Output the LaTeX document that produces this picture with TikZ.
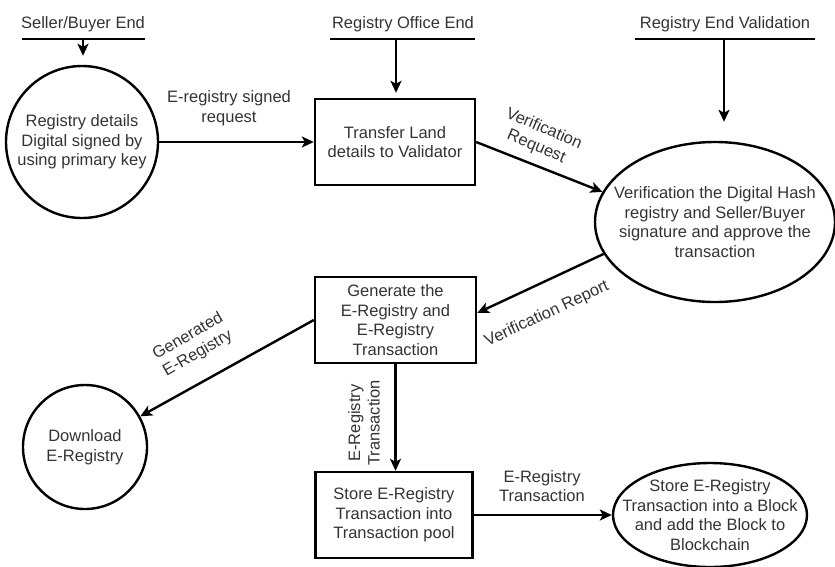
\documentclass[tikz,border=0pt]{standalone}
\usepackage{fontspec}
\setmainfont{Liberation Sans}
\usetikzlibrary{arrows.meta,shapes.geometric}

\begin{document}
\begin{tikzpicture}[x=1pt,y=-1pt,
  every node/.style={font=\fontsize{16.5}{19.5}\selectfont, text=black!80},
  procbox/.style={draw=black, line width=2.4pt, rectangle, minimum height=86pt,
                  inner sep=0pt, align=center},
  roundnode/.style={draw=black, line width=2.4pt, inner sep=0pt},
  lbl/.style={align=center, inner sep=0pt},
  flow/.style={draw=black, line width=2.4pt,
               -{Stealth[length=12pt,width=11pt,inset=3pt]}},
  bar/.style={draw=black, line width=2.6pt},
  endlabel/.style={anchor=base, inner sep=0pt}
]
\useasboundingbox (0,0) rectangle (835,566);

% external ends (bars with titles)
\node[endlabel] (t1) at (83,28) {Seller/Buyer End};
\node[endlabel] (t2) at (403,28) {Registry Office End};
\node[endlabel] (t3) at (725,28) {Registry End Validation};
\coordinate (b1L) at (22,39);  \coordinate (b1R) at (145,39);
\coordinate (b2L) at (330,39); \coordinate (b2R) at (475,39);
\coordinate (b3L) at (635,39); \coordinate (b3R) at (815,39);
\coordinate (f1) at (83,39);
\coordinate (f2) at (396,39);
\coordinate (f3) at (724,39);
\draw[bar] (b1L) -- (b1R);
\draw[bar] (b2L) -- (b2R);
\draw[bar] (b3L) -- (b3R);

% processes
\node[roundnode, circle, minimum size=152pt,
      label={[lbl]center:Registry details\\Digital signed by\\using primary key}]
      (c1) at (82,142) {};
\node[procbox, minimum width=160pt] (pb1) at (395,142)
      {Transfer Land\\details to Validator};
\node[roundnode, ellipse, minimum width=240pt, minimum height=160pt,
      label={[lbl]center:Verification the Digital Hash\\registry and Seller/Buyer\\signature and approve the\\transaction}]
      (e2) at (715,222) {};
\node[procbox, minimum width=161pt] (pb2) at (395.5,320)
      {Generate the\\E-Registry and\\E-Registry\\Transaction};
\node[roundnode, circle, minimum size=124pt,
      label={[lbl]center:Download\\E-Registry}]
      (c2) at (85,447) {};
\node[procbox, minimum width=157pt] (pb3) at (394,515)
      {Store E-Registry\\Transaction into\\Transaction pool};
\node[roundnode, ellipse, minimum width=194pt, minimum height=104pt,
      label={[lbl]center:Store E-Registry\\Transaction into a Block\\and add the Block to\\Blockchain}]
      (e3) at (710,515) {};

% connectors
\draw[flow, shorten >=9pt] (f1) -- (f1 |- c1.north);
\draw[flow, shorten >=5pt] (f2) -- (f2 |- pb1.north);
\draw[flow, shorten >=19pt] (f3) -- (f3 |- e2.north);
\draw[flow] (c1.east) -- (pb1.west);
\draw[flow] (pb1.east) -- (e2.165);
\draw[flow] (e2.196) -- ([yshift=7pt]pb2.east);
\draw[flow] (pb2.west) -- (c2);
\draw[flow] (pb2.south) -- (pb2.south |- pb3.north);
\draw[flow] (pb3.east) -- (e3.west);

% connector labels
\node[lbl] (l1) at (229,108) {E-registry signed\\request};
\node[lbl, rotate=-23] (l2) at (540,138) {Verification\\Request};
\node[lbl, rotate=25] (l3) at (547,314) {Verification Report};
\node[lbl, rotate=30] (l4) at (193,345) {Generated\\E-Registry};
\node[lbl, rotate=90] (l5) at (364,423) {E-Registry\\Transaction};
\node[lbl] (l6) at (542,486) {E-Registry\\Transaction};
\end{tikzpicture}
\end{document}
